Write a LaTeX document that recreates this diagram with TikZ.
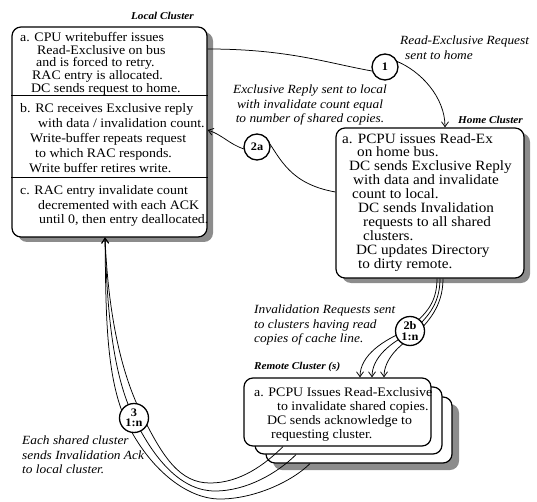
\documentclass[tikz,border=0pt]{standalone}
\usepackage{fontspec}
\setmainfont{Liberation Serif}[FakeStretch=1.07]
\usetikzlibrary{arrows.meta,shadows}
\begin{document}
\begin{tikzpicture}[x=1pt,y=-1pt,
  box/.style={draw, line width=1.2pt, rounded corners=9pt, fill=white, inner sep=0pt},
  shd/.style={drop shadow={shadow xshift=6pt, shadow yshift=-5pt, fill=black!45, opacity=1}},
  txt/.style={inner sep=0pt, align=left, anchor=north west, font=\fontsize{13}{14.1}\selectfont},
  note/.style={inner sep=0pt, font=\fontsize{12.5}{14.5}\selectfont\itshape},
  ttl/.style={inner sep=0pt, font=\fontsize{10.5}{12}\selectfont\bfseries\itshape},
  num/.style={circle, draw, line width=1.3pt, fill=white, inner sep=0pt, align=center, font=\fontsize{11.5}{10.5}\selectfont\bfseries},
  conn/.style={line width=0.75pt},
  barb/.style={-{Straight Barb[length=5pt,width=7pt]}},
  rbarb/.style={{Straight Barb[length=5pt,width=7pt]}-}
]
\useasboundingbox (0,0) rectangle (537,502);

% ---- boxes ----
\node[box, shd, minimum width=195pt, minimum height=210pt] (local) at (109.5,132) {};
\draw[line width=1pt] (local.west |- 0,96) -- (local.east |- 0,96);
\draw[line width=1pt] (local.west |- 0,178) -- (local.east |- 0,178);
\node[box, shd, minimum width=188pt, minimum height=150pt] (home) at (430,203) {};

\node[box, drop shadow={shadow xshift=7pt, shadow yshift=-7pt, fill=black!45, opacity=1},
      minimum width=186pt, minimum height=66pt] (rem3) at (359,430) {};
\node[box, minimum width=187pt, minimum height=67pt] (rem2) at (348.5,420.5) {};
\node[box, minimum width=187pt, minimum height=68pt] (rem1) at (337.5,412) {};

% ---- titles ----
\node[ttl, anchor=east] (tlocal) at (194,16) {Local Cluster};
\node[ttl, anchor=east] (thome) at (523,120) {Home Cluster};
\node[ttl, anchor=west] (tremote) at (254,367) {Remote Cluster (s)};

% ---- box texts ----
\node[txt, font=\fontsize{13}{12.7}\selectfont] (la) at (20,32) {a. CPU writebuffer issues\\
\hspace*{17pt}Read-Exclusive on bus\\
\hspace*{16pt}and is forced to retry.\\
\hspace*{12pt}RAC entry is allocated.\\
\hspace*{11pt}DC sends request to home.};
\node[txt, font=\fontsize{13}{15}\selectfont] (lb) at (20,103) {b. RC receives Exclusive reply\\
\hspace*{18pt}with data / invalidation count.\\
\hspace*{10pt}Write-buffer repeats request\\
\hspace*{15pt}to which RAC responds.\\
\hspace*{9pt}Write buffer retires write.};
\node[txt, font=\fontsize{13}{14.8}\selectfont] (lc) at (20,185) {c. RAC entry invalidate count\\
\hspace*{18pt}decremented with each ACK\\
\hspace*{19pt}until 0, then entry deallocated.};
\node[txt, font=\fontsize{14.2}{13.9}\selectfont] (ha) at (342,133) {a. PCPU issues Read-Ex\\
\hspace*{15pt}on home bus.\\
\hspace*{7pt}DC sends Exclusive Reply\\
\hspace*{11pt}with data and invalidate\\
\hspace*{10pt}count to local.\\
\hspace*{16pt}DC sends Invalidation\\
\hspace*{21pt}requests to all shared\\
\hspace*{21pt}clusters.\\
\hspace*{14pt}DC updates Directory\\
\hspace*{16pt}to dirty remote.};
\node[txt] (ra) at (254,387) {a. PCPU Issues Read-Exclusive\\
\hspace*{23pt}to invalidate shared copies.\\
\hspace*{13pt}DC sends acknowledge to\\
\hspace*{17pt}requesting cluster.};

% ---- notes ----
\node[note, align=left, anchor=north west] (n1) at (400,36) {Read-Exclusive Request\\\hspace*{5pt}sent to home};
\node[note, align=center] (n2a) at (310,105) {Exclusive Reply sent to local\\with invalidate count equal\\to number of shared copies.};
\node[note, align=left, anchor=north west] (n2b) at (254,305) {Invalidation Requests sent\\to clusters having read\\copies of cache line.};
\node[note, align=left, anchor=north west] (n3) at (22,436) {Each shared cluster\\sends Invalidation Ack\\to local cluster.};

% ---- circle positions ----
\coordinate (p1) at (385,67);
\coordinate (p2a) at (257,147);
\coordinate (p2b) at (410,331);
\coordinate (p3) at (134,418);

% ---- connectors ----
\coordinate (s1) at (local.east |- 0,49);
\draw[conn] (s1) .. controls +(80,0) and +(-45,-8) .. ([xshift=-13pt,yshift=-4pt]p1);
\coordinate (e1) at (home.north -| 445,0);
\draw[conn,barb] ([xshift=11pt,yshift=6pt]p1) .. controls +(25,10) and +(0,-30) .. (e1);

\coordinate (s2a) at (home.west |- 0,192);
\draw[conn] (s2a) .. controls +(-45,-8) and +(15,22) .. ([xshift=9pt,yshift=9pt]p2a);
\coordinate (e2a) at (local.east |- 0,130);
\draw[conn,barb] ([xshift=-13pt,yshift=-2pt]p2a) .. controls +(-15,-5) and +(15,5) .. (e2a);

% 2b bundle
\coordinate (h0) at (home.south -| 437,0);
\coordinate (h1) at (home.south -| 440,0);
\coordinate (h2) at (home.south -| 443,0);
\coordinate (m0) at (408,330);
\coordinate (m1) at (411,333);
\coordinate (m2) at (414,336);
\coordinate (a0) at (rem1.north -| 360,0);
\coordinate (a1) at (rem1.north -| 372,0);
\coordinate (a2) at (rem1.north -| 384,0);
\draw[conn,barb] (h0) .. controls +(0,28) and +(14,-14) .. (m0) .. controls +(-25,10) and +(0,-22) .. (a0);
\draw[conn,barb] (h1) .. controls +(0,28) and +(14,-14) .. (m1) .. controls +(-20,9) and +(0,-20) .. (a1);
\draw[conn,barb] (h2) .. controls +(0,28) and +(14,-14) .. (m2) .. controls +(-15,9) and +(0,-18) .. (a2);

% 3 bundle
\coordinate (t3) at (local.south -| 105,0);
\coordinate (c30) at (141,413);
\coordinate (c31) at (134,418);
\coordinate (c32) at (127,423);
\coordinate (b30) at (210,483);
\coordinate (b31) at (215,491);
\coordinate (b32) at (220,499);
\coordinate (e30) at (rem1.south -| 283,0);
\coordinate (e31) at (rem2.south -| 296,0);
\coordinate (e32) at (rem3.south -| 310,0);
\draw[conn,rbarb] (t3) .. controls +(3,70) and +(-22,-45) .. (c30) .. controls +(22,45) and +(-30,0) .. (b30) .. controls +(30,0) and +(-18,18) .. (e30);
\draw[conn,rbarb] (t3) .. controls +(2,70) and +(-22,-45) .. (c31) .. controls +(22,45) and +(-32,0) .. (b31) .. controls +(32,0) and +(-18,18) .. (e31);
\draw[conn,rbarb] (t3) .. controls +(1,70) and +(-22,-45) .. (c32) .. controls +(22,45) and +(-34,0) .. (b32) .. controls +(34,0) and +(-18,18) .. (e32);

% ---- circles ----
\node[num, minimum size=26pt] (n1c) at (p1) {1};
\node[num, minimum size=26pt] (n2ac) at (p2a) {2a};
\node[num, minimum size=29pt] (n2bc) at (p2b) {2b\\1:n};
\node[num, minimum size=29pt] (n3c) at (p3) {3\\1:n};
\end{tikzpicture}
\end{document}
